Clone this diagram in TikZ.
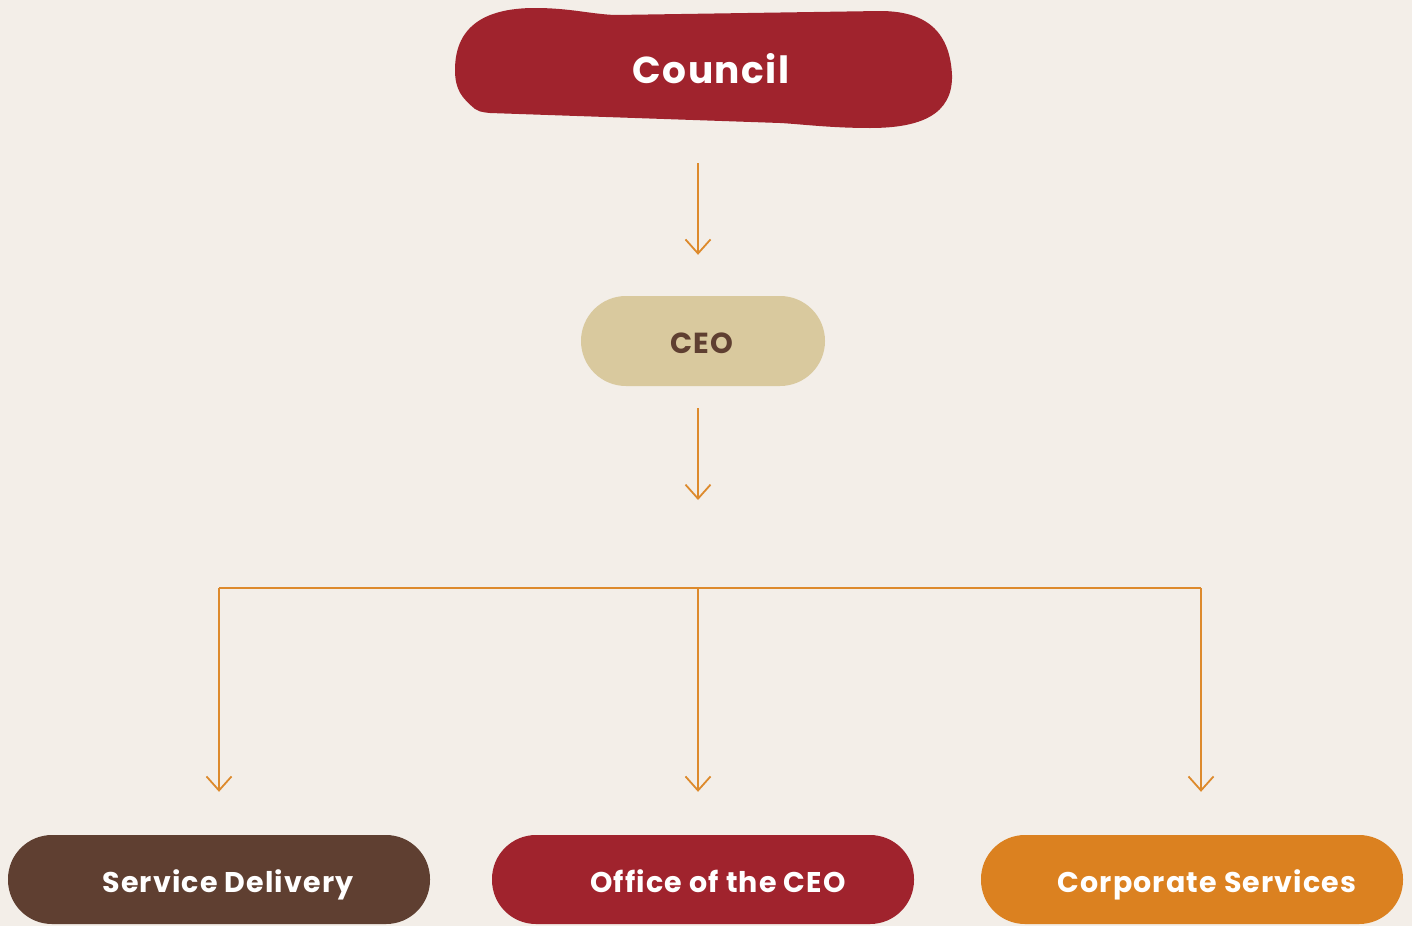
\documentclass[tikz,border=0pt]{standalone}
\usepackage{fontspec}
\setmainfont{Poppins}[LetterSpace=4]
\usetikzlibrary{arrows.meta}
\definecolor{bg}{HTML}{F3EEE8}
\definecolor{wine}{HTML}{A0232D}
\definecolor{sand}{HTML}{D9C99E}
\definecolor{brown}{HTML}{5F3F31}
\definecolor{amber}{HTML}{DB8120}
\definecolor{wire}{HTML}{DD8A2C}
\tikzset{
  arr/.style={draw=wire, line width=1.8pt, -{Straight Barb[length=14pt,width=25pt,line width=1.8pt]}},
  wireline/.style={draw=wire, line width=1.8pt},
  pill/.style={minimum width=422pt, minimum height=89pt, rounded corners=44pt, inner sep=0pt},
  lbl/.style={text=white, anchor=base, inner sep=0pt, font=\bfseries\fontsize{28.5}{34}\selectfont},
}
\begin{document}
\begin{tikzpicture}[x=1pt,y=-1pt]
\useasboundingbox[fill=bg] (0,0) rectangle (1412,926);
% council blob
\fill[wine] (455,70) .. controls (455,30) and (480,8) .. (535,8)
  .. controls (570,8) and (590,14) .. (615,15)
  -- (880,11)
  .. controls (930,11) and (950,35) .. (952,75)
  .. controls (953,115) and (920,128) .. (870,128)
  .. controls (830,128) and (800,124) .. (780,123)
  -- (490,113)
  .. controls (480,112) and (478,111) .. (475,109)
  .. controls (462,98) and (455,90) .. (455,70) -- cycle;
\node[minimum width=497pt, minimum height=118pt, inner sep=0pt] (council) at (703,69) {};
\node[text=white, anchor=base, inner sep=0pt, font=\bfseries\fontsize{37.5}{44}\selectfont] (counciltxt) at (711,83) {Council};
% CEO
\node[fill=sand, minimum width=244pt, minimum height=90pt, rounded corners=45pt, inner sep=0pt] (ceo) at (703,341) {};
\node[text=brown, anchor=base, inner sep=0pt, font=\bfseries\fontsize{29}{34}\selectfont] (ceotxt) at (702,353) {CEO};
% bottom
\node[pill, fill=brown] (sd) at (219,879.5) {};
\node[pill, fill=wine] (oc) at (703,879.5) {};
\node[pill, fill=amber] (cs) at (1192,879.5) {};
\node[lbl] (sdtxt) at (228,892) {Service Delivery};
\node[lbl] (octxt) at (718,892) {Office of the CEO};
\node[lbl] (cstxt) at (1207,892) {Corporate Services};
% connectors
\coordinate (j) at (698,588);
\coordinate (jl) at (219,588);
\coordinate (jr) at (1201,588);
\coordinate (a2end) at (698,500);
\draw[arr, shorten <=35pt, shorten >=41pt] ([xshift=-5pt]council.south) -- ([xshift=-5pt]ceo.north);
\draw[arr, shorten <=22pt] ([xshift=-5pt]ceo.south) -- (a2end);
\draw[wireline] (jl) -- (jr);
\draw[arr, shorten >=43pt] (jl) -- (sd.north);
\draw[arr, shorten >=43pt] (j) -- (j |- oc.north);
\draw[arr, shorten >=43pt] (jr) -- (jr |- cs.north);
\end{tikzpicture}
\end{document}
